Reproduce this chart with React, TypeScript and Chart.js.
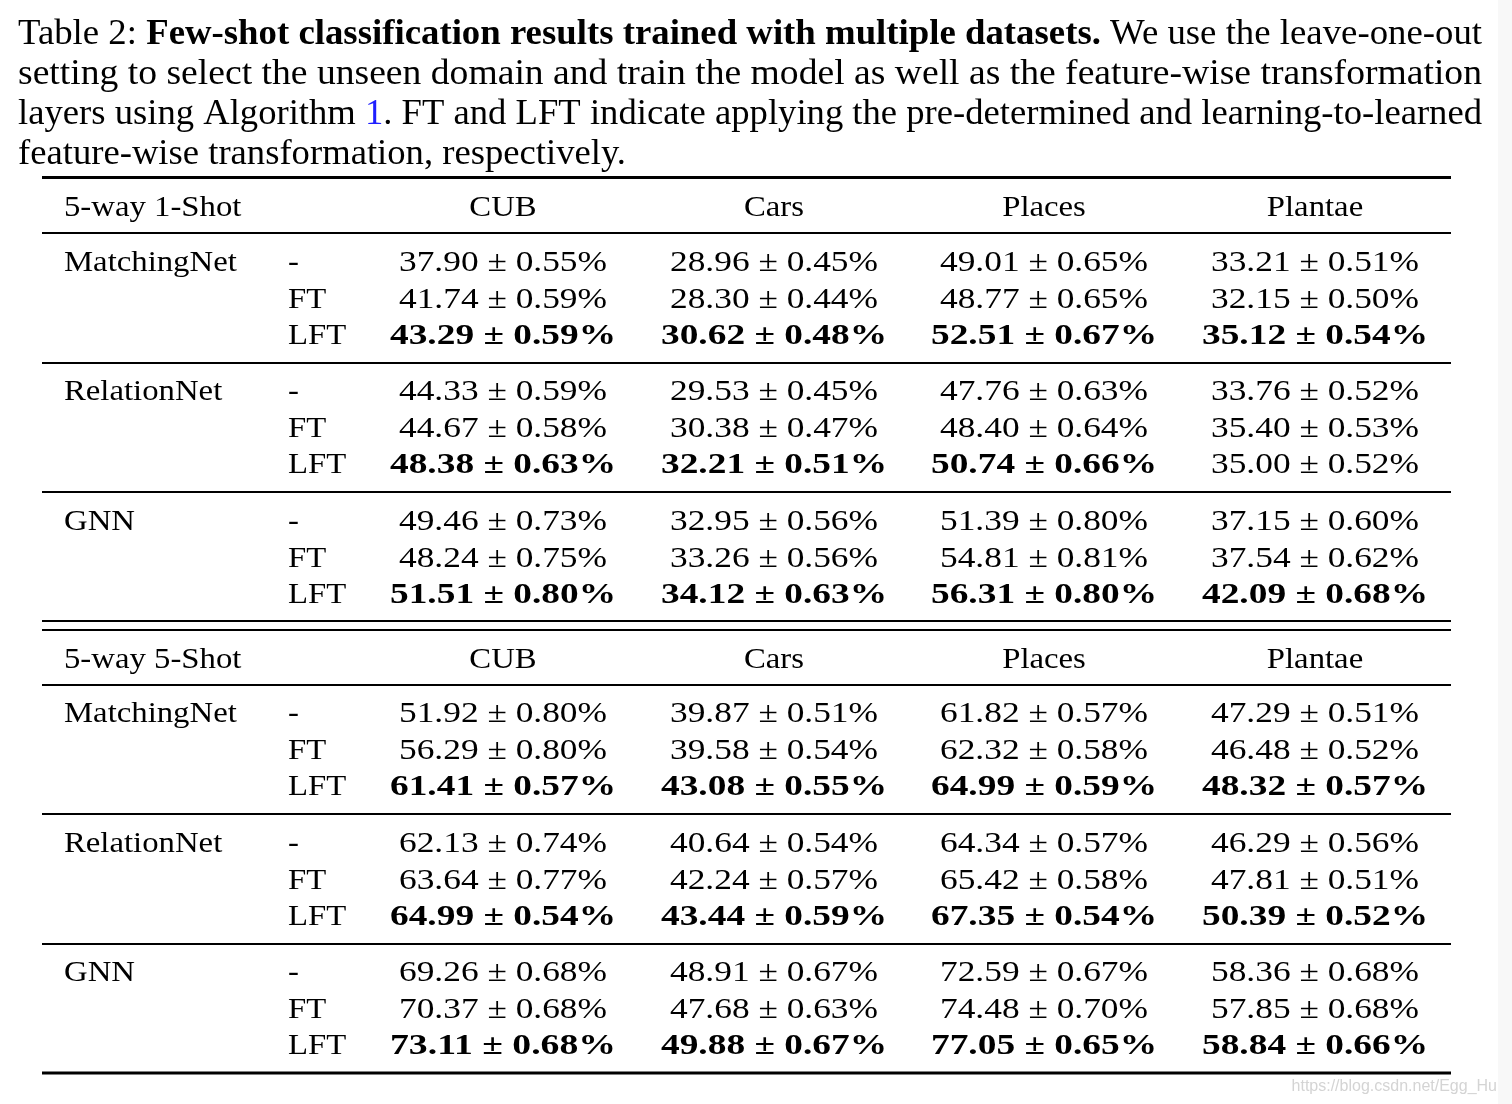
import React, { useEffect, useRef } from "react";
import { Chart, registerables } from "chart.js";

Chart.register(...registerables);

// ---------- data ----------
const captionLines: [string, string][][] = [
  [["Table 2: ", "n"], ["Few-shot classification results trained with multiple datasets.", "b"], [" We use the leave-one-out", "n"]],
  [["setting to select the unseen domain and train the model as well as the feature-wise transformation", "n"]],
  [["layers using Algorithm ", "n"], ["1", "l"], [". FT and LFT indicate applying the pre-determined and learning-to-learned", "n"]],
  [["feature-wise transformation, respectively.", "n"]],
];

const shotSettings = ["5-way 1-Shot", "5-way 5-Shot"];
const domains = ["CUB", "Cars", "Places", "Plantae"];
const methods = ["MatchingNet", "RelationNet", "GNN"];
const variants = ["-", "FT", "LFT"];

const oneShotMean = [
  [37.9, 28.96, 49.01, 33.21],
  [41.74, 28.3, 48.77, 32.15],
  [43.29, 30.62, 52.51, 35.12],
  [44.33, 29.53, 47.76, 33.76],
  [44.67, 30.38, 48.4, 35.4],
  [48.38, 32.21, 50.74, 35.0],
  [49.46, 32.95, 51.39, 37.15],
  [48.24, 33.26, 54.81, 37.54],
  [51.51, 34.12, 56.31, 42.09],
];
const oneShotCI = [
  [0.55, 0.45, 0.65, 0.51],
  [0.59, 0.44, 0.65, 0.5],
  [0.59, 0.48, 0.67, 0.54],
  [0.59, 0.45, 0.63, 0.52],
  [0.58, 0.47, 0.64, 0.53],
  [0.63, 0.51, 0.66, 0.52],
  [0.73, 0.56, 0.8, 0.6],
  [0.75, 0.56, 0.81, 0.62],
  [0.8, 0.63, 0.8, 0.68],
];
const oneShotBold = [
  [0, 0, 0, 0],
  [0, 0, 0, 0],
  [1, 1, 1, 1],
  [0, 0, 0, 0],
  [0, 0, 0, 0],
  [1, 1, 1, 0],
  [0, 0, 0, 0],
  [0, 0, 0, 0],
  [1, 1, 1, 1],
];

const fiveShotMean = [
  [51.92, 39.87, 61.82, 47.29],
  [56.29, 39.58, 62.32, 46.48],
  [61.41, 43.08, 64.99, 48.32],
  [62.13, 40.64, 64.34, 46.29],
  [63.64, 42.24, 65.42, 47.81],
  [64.99, 43.44, 67.35, 50.39],
  [69.26, 48.91, 72.59, 58.36],
  [70.37, 47.68, 74.48, 57.85],
  [73.11, 49.88, 77.05, 58.84],
];
const fiveShotCI = [
  [0.8, 0.51, 0.57, 0.51],
  [0.8, 0.54, 0.58, 0.52],
  [0.57, 0.55, 0.59, 0.57],
  [0.74, 0.54, 0.57, 0.56],
  [0.77, 0.57, 0.58, 0.51],
  [0.54, 0.59, 0.54, 0.52],
  [0.68, 0.67, 0.67, 0.68],
  [0.68, 0.63, 0.7, 0.68],
  [0.68, 0.67, 0.65, 0.66],
];
const fiveShotBold = [
  [0, 0, 0, 0],
  [0, 0, 0, 0],
  [1, 1, 1, 1],
  [0, 0, 0, 0],
  [0, 0, 0, 0],
  [1, 1, 1, 1],
  [0, 0, 0, 0],
  [0, 0, 0, 0],
  [1, 1, 1, 1],
];

const watermark = "https://blog.csdn.net/Egg_Hu";

// ---------- layout (pixel space of the hidden linear scales) ----------
const W = 1512;
const H = 1104;
const SERIF = '"Liberation Serif", "Times New Roman", serif';
const captionBaselines = [44, 84, 124, 164];
const captionTargets = [1464, 1464, 1464, 608];
const captionLeft = 18;
const captionSize = 36;
const tableLeft = 42;
const tableRight = 1451;
const labelX = 64;
const variantX = 288;
const colCenters = [503, 774, 1044, 1315];
const tableSize = 29.5;
const labelSx = 1.11;
const numW = 208;
const numWBold = 226;
const rowStep = 36.6;

const sections = [
  {
    title: shotSettings[0],
    mean: oneShotMean,
    ci: oneShotCI,
    bold: oneShotBold,
    headerBase: 216,
    headerRule: 233,
    groupBase: [271, 400, 530],
    groupRules: [363, 492],
  },
  {
    title: shotSettings[1],
    mean: fiveShotMean,
    ci: fiveShotCI,
    bold: fiveShotBold,
    headerBase: 668,
    headerRule: 685,
    groupBase: [722, 852, 981],
    groupRules: [814, 944],
  },
];
const thickRules = [177.5, 1073];
const doubleRules = [621, 630];

function drawScaled(
  ctx: CanvasRenderingContext2D,
  text: string,
  x: number,
  y: number,
  font: string,
  align: CanvasTextAlign,
  sx: number | null,
  target: number | null,
  color = "#000"
) {
  ctx.font = font;
  const w = ctx.measureText(text).width;
  const s = target ? target / w : sx || 1;
  ctx.save();
  ctx.translate(x, y);
  ctx.scale(s, 1);
  ctx.textAlign = align;
  ctx.textBaseline = "alphabetic";
  ctx.fillStyle = color;
  ctx.fillText(text, 0, 0);
  ctx.restore();
}

const tablePlugin = {
  id: "tableDraw",
  afterDraw(chart: any) {
    const ctx: CanvasRenderingContext2D = chart.ctx;
    const xs = chart.scales.x;
    const ys = chart.scales.y;
    const px = (v: number) => xs.getPixelForValue(v);
    const py = (v: number) => ys.getPixelForValue(v);

    ctx.save();
    ctx.fillStyle = "#fff";
    ctx.fillRect(px(0), py(0), px(W) - px(0), py(H) - py(0));
    ctx.fillStyle = "#f8f8f8";
    ctx.fillRect(px(1498), py(0), px(W) - px(1498), py(H) - py(0));

    // caption
    const fontFor = (k: string) =>
      (k === "b" ? "bold " : "") + captionSize + "px " + SERIF;
    captionLines.forEach((segs, i) => {
      let natural = 0;
      segs.forEach(([t, k]) => {
        ctx.font = fontFor(k);
        natural += ctx.measureText(t).width;
      });
      const s = captionTargets[i] / natural;
      let x = captionLeft;
      segs.forEach(([t, k]) => {
        ctx.font = fontFor(k);
        const w = ctx.measureText(t).width;
        drawScaled(ctx, t, px(x), py(captionBaselines[i]), fontFor(k), "left", s, null, k === "l" ? "#1f1fff" : "#000");
        x += w * s;
      });
    });

    // rules
    const hRule = (y: number, t: number) => {
      ctx.fillStyle = "#000";
      ctx.fillRect(px(tableLeft), py(y - t / 2), px(tableRight) - px(tableLeft), t);
    };
    thickRules.forEach((y) => hRule(y, 3));
    doubleRules.forEach((y) => hRule(y, 2));

    const reg = tableSize + "px " + SERIF;
    const bold = "bold " + tableSize + "px " + SERIF;

    sections.forEach((sec) => {
      hRule(sec.headerRule, 2);
      sec.groupRules.forEach((y) => hRule(y, 2));
      drawScaled(ctx, sec.title, px(labelX), py(sec.headerBase), reg, "left", labelSx, null);
      domains.forEach((d, j) => {
        drawScaled(ctx, d, px(colCenters[j]), py(sec.headerBase), reg, "center", labelSx, null);
      });
      methods.forEach((m, g) => {
        const base = sec.groupBase[g];
        drawScaled(ctx, m, px(labelX), py(base), reg, "left", labelSx, null);
        variants.forEach((v, r) => {
          const y = base + r * rowStep;
          drawScaled(ctx, v, px(variantX), py(y), reg, "left", labelSx, null);
          const row = g * variants.length + r;
          domains.forEach((_, j) => {
            const isB = sec.bold[row][j] === 1;
            const txt = sec.mean[row][j].toFixed(2) + " \u00b1 " + sec.ci[row][j].toFixed(2) + "%";
            drawScaled(ctx, txt, px(colCenters[j]), py(y), isB ? bold : reg, "center", null, isB ? numWBold : numW);
          });
        });
      });
    });

    // watermark
    drawScaled(ctx, watermark, px(1497), py(1091), '16px "Liberation Sans", Arial, sans-serif', "right", 1, null, "#d4d4d4");
    ctx.restore();
  },
};

export default function App() {
  const ref = useRef<HTMLCanvasElement | null>(null);
  useEffect(() => {
    document.body.style.margin = "0";
    const canvas = ref.current;
    if (!canvas) return;
    const chart = new Chart(canvas, {
      type: "scatter",
      data: { datasets: [{ data: [], pointRadius: 0 }] },
      options: {
        animation: false,
        responsive: false,
        maintainAspectRatio: false,
        devicePixelRatio: 1,
        layout: { padding: 0 },
        plugins: { legend: { display: false }, tooltip: { enabled: false } },
        scales: {
          x: { type: "linear", min: 0, max: W, display: false },
          y: { type: "linear", min: 0, max: H, reverse: true, display: false },
        },
      },
      plugins: [tablePlugin],
    });
    return () => chart.destroy();
  }, []);
  return (
    <div style={{ position: "fixed", left: 0, top: 0, width: W, height: H, background: "#fff" }}>
      <canvas ref={ref} width={W} height={H} style={{ display: "block", width: W, height: H }} />
    </div>
  );
}
